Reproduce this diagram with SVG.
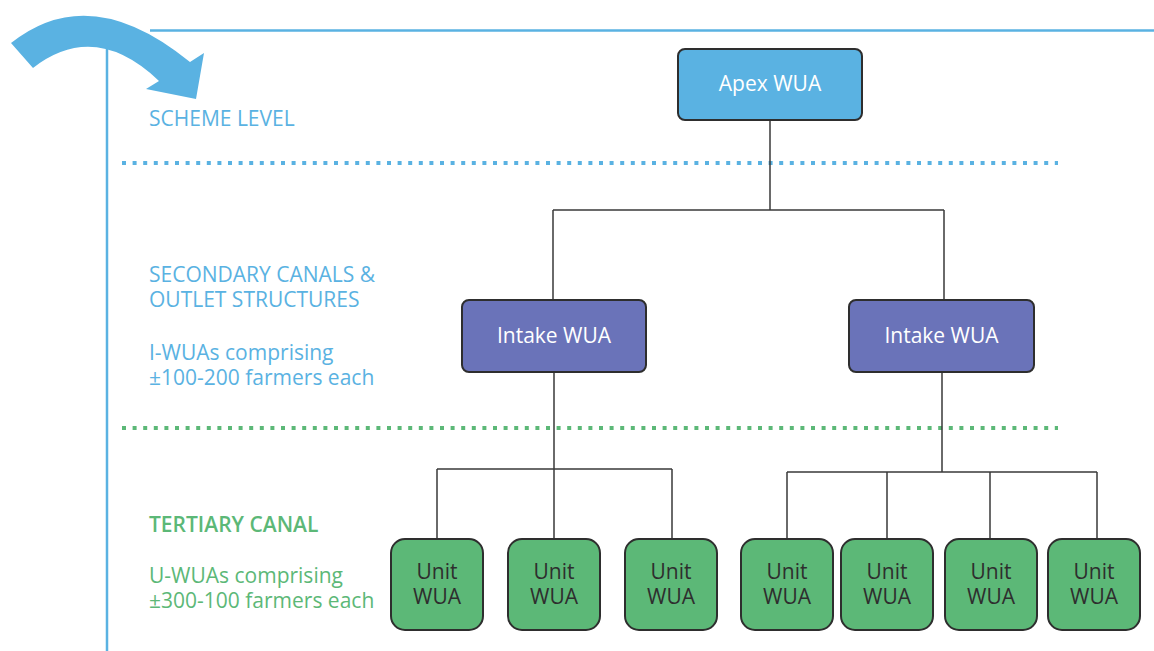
<svg xmlns="http://www.w3.org/2000/svg" width="1154" height="651" viewBox="0 0 1154 651">
  <style>
    .lbl { font-family: "Open Sans", "Noto Sans", "Liberation Sans", sans-serif; font-size: 21px; }
    .blue { fill: #5ab2e2; }
    .green { fill: #5cb877; }
    .node { stroke: #2e2e2e; stroke-width: 2; }
    .apex { fill: #5ab2e2; }
    .intake { fill: #6a73b9; }
    .unit { fill: #5cb877; }
    .ntxt { font-family: "Open Sans", "Noto Sans", "Liberation Sans", sans-serif; font-size: 21px; text-anchor: middle; }
    .wtxt { fill: #ffffff; font-weight: 500; }
    .dtxt { fill: #2e2e2e; }
    .conn { fill: none; stroke: #3a3a3a; stroke-width: 1.5; }
    .dots { fill: none; stroke-width: 4; stroke-dasharray: 4 6.6; }
  </style>

  <rect width="1154" height="651" fill="#ffffff"/>

  <!-- frame lines -->
  <line x1="150" y1="30.5" x2="1154" y2="30.5" stroke="#5ab2e2" stroke-width="2.5"/>
  <line x1="107" y1="45" x2="107" y2="651" stroke="#5ab2e2" stroke-width="2.5"/>

  <!-- curved arrow -->
  <path d="M11,43 Q90,-20 190,62 L204,53 L196,99 L146,89 L159,81 Q95,20 33,68 Z" fill="#5ab2e2"/>

  <!-- level separators -->
  <line class="dots" x1="122" y1="163" x2="1058" y2="163" stroke="#5ab2e2"/>
  <line class="dots" x1="122" y1="428" x2="1058" y2="428" stroke="#5cb877"/>

  <!-- level labels -->
  <text class="lbl blue" x="149" y="126" font-weight="500">SCHEME LEVEL</text>
  <text class="lbl blue" x="149" y="282">SECONDARY CANALS &amp;</text>
  <text class="lbl blue" x="149" y="307">OUTLET STRUCTURES</text>
  <text class="lbl blue" x="149" y="360">I-WUAs comprising</text>
  <text class="lbl blue" x="149" y="385">±100-200 farmers each</text>
  <text class="lbl green" x="149" y="532" font-weight="600">TERTIARY CANAL</text>
  <text class="lbl green" x="149" y="583">U-WUAs comprising</text>
  <text class="lbl green" x="149" y="608">±300-100 farmers each</text>

  <!-- connectors -->
  <g id="connectors">
    <path class="conn" d="M770,120 V210 M553,210 H944 M553,210 V300 M944,210 V300"/>
    <path class="conn" d="M554,372 V469 M437,469 H672 M437,469 V539 M554,469 V539 M672,469 V539"/>
    <path class="conn" d="M942,372 V472 M787,472 H1097 M787,472 V539 M887,472 V539 M990,472 V539 M1097,472 V539"/>
  </g>

  <g id="apex">
    <rect class="node apex" x="678" y="49" width="184" height="71" rx="7"/>
    <text class="ntxt wtxt" x="770" y="91">Apex WUA</text>
  </g>

  <g id="intake-left">
    <rect class="node intake" x="462" y="300" width="184" height="72" rx="7"/>
    <text class="ntxt wtxt" x="554" y="343">Intake WUA</text>
  </g>
  <g id="intake-right">
    <rect class="node intake" x="849" y="300" width="185" height="72" rx="7"/>
    <text class="ntxt wtxt" x="941.5" y="343">Intake WUA</text>
  </g>

  <g id="unit-1">
    <rect class="node unit" x="391" y="539" width="92" height="91" rx="14"/>
    <text class="ntxt dtxt" x="437" y="579">Unit</text>
    <text class="ntxt dtxt" x="437" y="604">WUA</text>
  </g>
  <g id="unit-2">
    <rect class="node unit" x="508" y="539" width="92" height="91" rx="14"/>
    <text class="ntxt dtxt" x="554" y="579">Unit</text>
    <text class="ntxt dtxt" x="554" y="604">WUA</text>
  </g>
  <g id="unit-3">
    <rect class="node unit" x="625" y="539" width="92" height="91" rx="14"/>
    <text class="ntxt dtxt" x="671" y="579">Unit</text>
    <text class="ntxt dtxt" x="671" y="604">WUA</text>
  </g>
  <g id="unit-4">
    <rect class="node unit" x="741" y="539" width="92" height="91" rx="14"/>
    <text class="ntxt dtxt" x="787" y="579">Unit</text>
    <text class="ntxt dtxt" x="787" y="604">WUA</text>
  </g>
  <g id="unit-5">
    <rect class="node unit" x="841" y="539" width="92" height="91" rx="14"/>
    <text class="ntxt dtxt" x="887" y="579">Unit</text>
    <text class="ntxt dtxt" x="887" y="604">WUA</text>
  </g>
  <g id="unit-6">
    <rect class="node unit" x="945" y="539" width="92" height="91" rx="14"/>
    <text class="ntxt dtxt" x="991" y="579">Unit</text>
    <text class="ntxt dtxt" x="991" y="604">WUA</text>
  </g>
  <g id="unit-7">
    <rect class="node unit" x="1048" y="539" width="92" height="91" rx="14"/>
    <text class="ntxt dtxt" x="1094" y="579">Unit</text>
    <text class="ntxt dtxt" x="1094" y="604">WUA</text>
  </g>
</svg>
